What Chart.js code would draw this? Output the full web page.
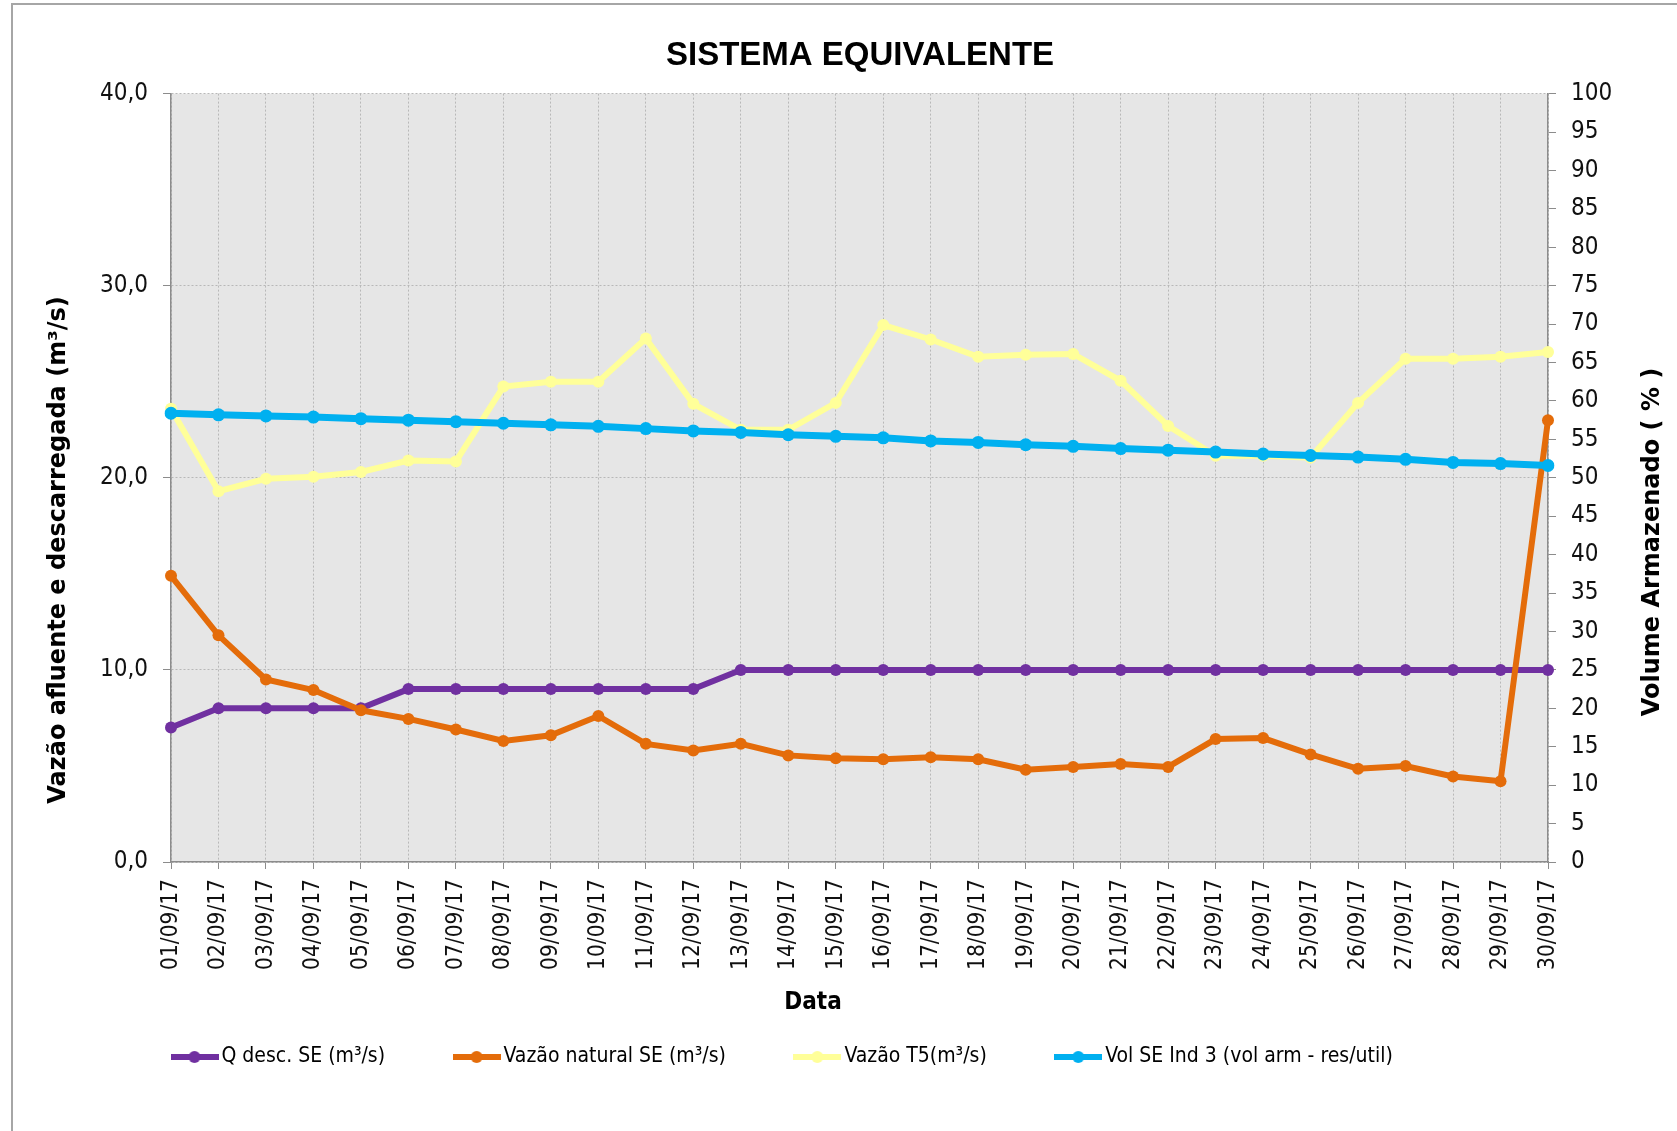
<!DOCTYPE html>
<html>
<head>
<meta charset="utf-8">
<title>Sistema Equivalente</title>
<script src="https://cdn.jsdelivr.net/npm/chart.js@4.4.1/dist/chart.umd.min.js"></script>
<style>
  html, body { margin: 0; padding: 0; background: #fff; overflow: hidden; }
  #wrap { position: relative; width: 1677px; height: 1131px; }
  #frame { position: absolute; left: 11px; top: 3px; width: 1720px; height: 1200px;
           border: 2px solid #a6a6a6; box-sizing: border-box; }
  #chart { position: absolute; left: 0; top: 0; }
</style>
</head>
<body>
<div id="wrap">
  <div id="frame"></div>
  <canvas id="chart" width="1677" height="1131"></canvas>
</div>
<script>
// ---- data ----
const dates = [
  "01/09/17", "02/09/17", "03/09/17", "04/09/17", "05/09/17", "06/09/17",
  "07/09/17", "08/09/17", "09/09/17", "10/09/17", "11/09/17", "12/09/17",
  "13/09/17", "14/09/17", "15/09/17", "16/09/17", "17/09/17", "18/09/17",
  "19/09/17", "20/09/17", "21/09/17", "22/09/17", "23/09/17", "24/09/17",
  "25/09/17", "26/09/17", "27/09/17", "28/09/17", "29/09/17", "30/09/17",
];

// m3/s, left axis
const qDesc = [7, 8, 8, 8, 8, 9, 9, 9, 9, 9, 9, 9, 10, 10, 10, 10, 10, 10,
  10, 10, 10, 10, 10, 10, 10, 10, 10, 10, 10, 10];
const vazaoNatural = [14.9, 11.8, 9.5, 8.95, 7.9, 7.45, 6.9, 6.3, 6.6, 7.6,
  6.15, 5.8, 6.15, 5.55, 5.4, 5.35, 5.45, 5.35, 4.8, 4.95,
  5.1, 4.95, 6.4, 6.45, 5.6, 4.85, 5.0, 4.45, 4.2, 23.0];
const vazaoT5 = [23.6, 19.3, 19.95, 20.05, 20.3, 20.9, 20.85, 24.75, 25.0, 25.0,
  27.25, 23.85, 22.5, 22.5, 23.9, 27.95, 27.2, 26.3, 26.4, 26.45,
  25.05, 22.7, 21.15, 21.15, 21.05, 23.9, 26.2, 26.2, 26.3, 26.55];

// %, right axis
const volSE = [58.4, 58.2, 58.05, 57.9, 57.7, 57.5, 57.3, 57.1, 56.9, 56.7,
  56.4, 56.1, 55.9, 55.6, 55.4, 55.2, 54.8, 54.6, 54.3, 54.1,
  53.8, 53.6, 53.35, 53.1, 52.9, 52.7, 52.4, 52.0, 51.85, 51.6];

const seriesNames = [
  "Q desc. SE (m³/s)",
  "Vazão natural SE (m³/s)",
  "Vazão T5(m³/s)",
  "Vol SE Ind 3 (vol arm - res/util)",
];

const CHART_TITLE = "SISTEMA EQUIVALENTE";
const LEFT_TITLE = "Vazão afluente e descarregada (m³/s)";
const RIGHT_TITLE = "Volume Armazenado ( % )";
const X_TITLE = "Data";

const colors = {
  qDesc: "#7030a0",
  natural: "#e46c0a",
  t5: "#ffff99",
  vol: "#00b0f0",
  axis: "#8c8c8c",
  grid: "#b8b8b8",
  plotBg: "#e6e6e6",
};

const NARROW = "'Liberation Sans Narrow', 'DejaVu Sans Condensed', sans-serif";
const LEGEND_FONT_SIZE = 21;

// small line+dot swatch like the Excel legend
function legendIcon(color) {
  const c = document.createElement("canvas");
  c.width = 48;
  c.height = 14;
  const g = c.getContext("2d");
  g.strokeStyle = color;
  g.lineWidth = 6;
  g.beginPath();
  g.moveTo(0, 7);
  g.lineTo(48, 7);
  g.stroke();
  g.fillStyle = color;
  g.beginPath();
  g.arc(24, 7, 6, 0, Math.PI * 2);
  g.fill();
  return c;
}

const plotBackground = {
  id: "plotBackground",
  beforeDraw(chart) {
    const { ctx, chartArea: a } = chart;
    ctx.save();
    ctx.fillStyle = colors.plotBg;
    ctx.fillRect(a.left, a.top, a.right - a.left, a.bottom - a.top);
    ctx.restore();
  },
};

// put the legend row under the plot, starting at the plot's left edge
const legendPlacement = {
  id: "legendPlacement",
  afterLayout(chart) {
    const lg = chart.legend;
    const pad = lg.options.labels.padding;
    const dx = chart.chartArea.left + 7 - (lg.left + pad);
    lg.left += dx;
    lg.right += dx;
    lg.top = 1057 - pad - LEGEND_FONT_SIZE / 2;
  },
};

// axis titles, placed like the original (right one reads bottom-to-top)
const axisTitles = {
  id: "axisTitles",
  afterDraw(chart) {
    const { ctx } = chart;
    ctx.save();
    ctx.fillStyle = "#000";
    ctx.textAlign = "center";
    ctx.textBaseline = "middle";
    ctx.font = "bold 24px 'DejaVu Sans'";
    ctx.save();
    ctx.translate(59, 550);
    ctx.rotate(-Math.PI / 2);
    ctx.fillText(LEFT_TITLE, 0, 0);
    ctx.restore();
    ctx.save();
    ctx.translate(1653, 542);
    ctx.rotate(-Math.PI / 2);
    ctx.fillText(RIGHT_TITLE, 0, 0);
    ctx.restore();
    ctx.font = "bold 24px " + NARROW;
    ctx.fillText(X_TITLE, 813, 1003);
    ctx.restore();
  },
};

function lineSet(label, data, color, width, radius, axis, order) {
  return {
    label,
    data,
    yAxisID: axis,
    order,
    borderColor: color,
    backgroundColor: color,
    borderWidth: width,
    pointRadius: radius,
    pointBorderWidth: 0,
    pointBackgroundColor: color,
    pointStyle: "circle",
    legendIcon: legendIcon(color),
    tension: 0,
    fill: false,
  };
}

// order: blue on top, purple at the bottom, as in the original
const datasets = [
  lineSet(seriesNames[0], qDesc, colors.qDesc, 6, 6, "y", 4),
  lineSet(seriesNames[1], vazaoNatural, colors.natural, 6, 6, "y", 3),
  lineSet(seriesNames[2], vazaoT5, colors.t5, 6, 6, "y", 2),
  lineSet(seriesNames[3], volSE, colors.vol, 7, 6.5, "y2", 1),
];

const tickFont = { family: NARROW, size: 24 };

new Chart(document.getElementById("chart"), {
  type: "line",
  data: { labels: dates, datasets },
  options: {
    responsive: false,
    animation: false,
    devicePixelRatio: 1,
    layout: { padding: { left: 43, right: 0, top: 0, bottom: 5 } },
    plugins: {
      title: {
        display: true,
        text: CHART_TITLE,
        color: "#000",
        font: { family: "'Liberation Sans', Arial, sans-serif", size: 33, weight: "bold" },
        padding: { top: 36, bottom: 18 },
      },
      legend: {
        position: "bottom",
        align: "start",
        labels: {
          color: "#000",
          font: { family: NARROW, size: LEGEND_FONT_SIZE },
          usePointStyle: true,
          pointStyleWidth: 33,
          padding: 75,
          sort: (a, b) => a.datasetIndex - b.datasetIndex,
          generateLabels(chart) {
            const items = Chart.defaults.plugins.legend.labels.generateLabels(chart);
            items.forEach((it) => {
              it.pointStyle = chart.data.datasets[it.datasetIndex].legendIcon;
            });
            return items;
          },
        },
      },
      tooltip: { enabled: false },
    },
    scales: {
      x: {
        grid: {
          color: colors.grid,
          tickColor: colors.axis,
          tickLength: 7,
          tickBorderDash: [],
        },
        border: { color: colors.axis, width: 1.5, dash: [2, 2] },
        ticks: {
          color: "#111",
          font: { family: NARROW, size: 22.5 },
          minRotation: 90,
          maxRotation: 90,
          autoSkip: false,
          padding: 10,
        },
        afterFit(s) { s.height = 158; },
      },
      y: {
        position: "left",
        min: 0,
        max: 40,
        grid: {
          color: colors.grid,
          tickColor: colors.axis,
          tickLength: 8,
          tickBorderDash: [],
        },
        border: { color: colors.axis, width: 1.5, dash: [2, 2] },
        ticks: {
          stepSize: 10,
          color: "#111",
          font: tickFont,
          padding: 15,
          callback: (v) => v.toFixed(1).replace(".", ","),
        },
        afterFit(s) { s.width = 128; },
      },
      y2: {
        position: "right",
        min: 0,
        max: 100,
        grid: {
          drawOnChartArea: false,
          tickColor: colors.axis,
          tickLength: 8,
        },
        border: { color: colors.axis, width: 1.5 },
        ticks: {
          stepSize: 5,
          color: "#111",
          font: tickFont,
          padding: 15,
        },
        afterFit(s) { s.width = 129; },
      },
    },
  },
  plugins: [plotBackground, legendPlacement, axisTitles],
});
</script>
</body>
</html>
